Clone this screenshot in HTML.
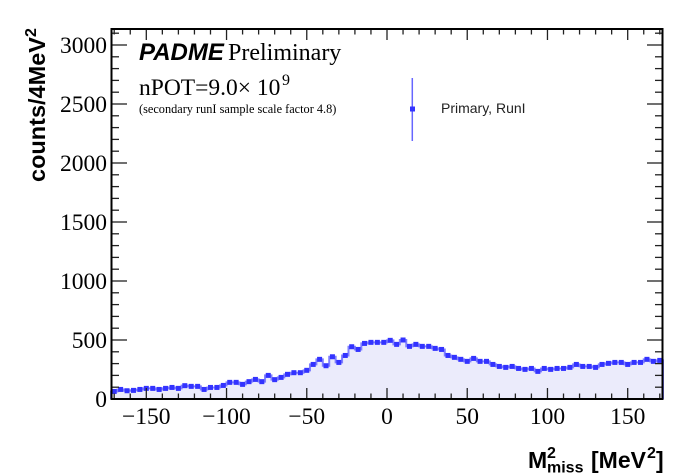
<!DOCTYPE html>
<html>
<head>
<meta charset="utf-8">
<style>
html,body{margin:0;padding:0;background:#fff;}
svg{display:block;}
</style>
</head>
<body>
<svg id="c" width="698" height="476" viewBox="0 0 698 476" xmlns="http://www.w3.org/2000/svg">
<rect x="0" y="0" width="698" height="476" fill="#ffffff"/>
<path id="fill" fill="#ebebfb" stroke="none" d=""/>
<path id="step" fill="none" stroke="#7f7fff" stroke-width="2" d=""/>
<g id="marks" fill="#3333ff"></g>
<g id="ticks" stroke="#222" stroke-width="1.3"></g>
<rect x="111.5" y="29" width="551" height="370" fill="none" stroke="#000" stroke-width="2"/>
<g id="labels" font-family="'Liberation Serif','Times New Roman',serif" font-size="23.5" fill="#000"></g>

<!-- texts -->
<text x="139" y="60" font-family="'Liberation Sans',Arial,sans-serif" font-weight="bold" font-style="italic" font-size="24">PADME</text>
<text x="228" y="60" font-family="'Liberation Serif','Times New Roman',serif" font-size="24">Preliminary</text>
<text x="139" y="95" font-family="'Liberation Serif','Times New Roman',serif" font-size="23.5">nPOT=9.0× 10</text>
<text x="282" y="85" font-family="'Liberation Serif','Times New Roman',serif" font-size="16">9</text>
<text x="139" y="113" font-family="'Liberation Serif','Times New Roman',serif" font-size="12.3">(secondary runI sample scale factor 4.8)</text>

<!-- legend -->
<line x1="412.3" y1="78" x2="412.3" y2="141" stroke="#6666ff" stroke-width="1.5"/>
<rect x="410" y="106.5" width="5" height="5" fill="#3333ff"/>
<text x="441" y="113" font-family="'Liberation Sans',Arial,sans-serif" font-size="14" fill="#222">Primary, RunI</text>

<!-- y title -->
<g transform="translate(45,182) rotate(-90)">
<text x="0" y="0" font-family="'Liberation Sans',Arial,sans-serif" font-weight="bold" font-size="23.5">counts/4MeV<tspan font-size="16" dy="-9">2</tspan></text>
</g>

<!-- x title -->
<g font-family="'Liberation Sans',Arial,sans-serif" font-weight="bold" fill="#000">
<text x="528" y="468" font-size="23">M</text>
<text x="547" y="458" font-size="16">2</text>
<text x="547" y="472.5" font-size="16">miss</text>
<text x="591" y="468" font-size="23">[MeV</text>
<text x="647" y="458" font-size="16">2</text>
<text x="656" y="468" font-size="23">]</text>
</g>
</svg>
<script>
(function(){
var d=[64,81,70,73,81,90,90,81,90,98,90,113,107,107,81,98,98,115,141,141,124,147,
166,147,200,164,183,209,223,223,243,293,336,282,358,310,369,443,420,471,480,480,480,
497,463,500,446,463,446,446,429,420,369,353,336,319,344,319,319,293,276,268,276,259,
251,259,234,259,251,259,259,268,293,276,276,268,293,302,310,310,293,310,310,336,319,327];
var NS="http://www.w3.org/2000/svg";
function X(v){return 111+(v+172)*552/344;}
function Y(v){return 399-v*0.118;}
var f="M"+X(-172)+" 399",s="M"+X(-172)+" 399";
var marks=document.getElementById("marks");
for(var i=0;i<d.length;i++){
  var x0=X(-172+4*i),x1=X(-172+4*(i+1)),y=Y(d[i]);
  f+=" L"+x0.toFixed(2)+" "+y.toFixed(2)+" L"+x1.toFixed(2)+" "+y.toFixed(2);
  s+=" L"+x0.toFixed(2)+" "+y.toFixed(2)+" L"+x1.toFixed(2)+" "+y.toFixed(2);
  var r=document.createElementNS(NS,"rect");
  var xc=X(-170+4*i);
  r.setAttribute("x",(xc-2.5).toFixed(2));r.setAttribute("y",(y-2.5).toFixed(2));
  r.setAttribute("width","5");r.setAttribute("height","5");
  marks.appendChild(r);
}
f+=" L"+X(172)+" 399 Z";
s+=" L"+X(172)+" 399";
document.getElementById("fill").setAttribute("d",f);
document.getElementById("step").setAttribute("d",s);
var t=document.getElementById("ticks"),L=document.getElementById("labels");
function line(x1,y1,x2,y2){var l=document.createElementNS(NS,"line");l.setAttribute("x1",x1);l.setAttribute("y1",y1);l.setAttribute("x2",x2);l.setAttribute("y2",y2);t.appendChild(l);}
function txt(x,y,str,anchor){var e=document.createElementNS(NS,"text");e.setAttribute("x",x);e.setAttribute("y",y);e.setAttribute("text-anchor",anchor);e.textContent=str;L.appendChild(e);}
// x ticks
for(var v=-170;v<=170;v+=10){
  var x=X(v),maj=(v%50===0);var len=maj?11:5.5;
  line(x,399,x,399-len);line(x,29,x,29+len);
  if(maj){txt(x,424,(v<0?"\u2212":"")+Math.abs(v),"middle");}
}
// y ticks
for(var v=0;v<=3100;v+=100){
  var y=Y(v),maj=(v%500===0);var len=maj?16:8;
  line(111,y,111+len,y);line(663,y,663-len,y);
  if(maj){txt(107,y+8,String(v),"end");}
}
})();
</script>
</body>
</html>
